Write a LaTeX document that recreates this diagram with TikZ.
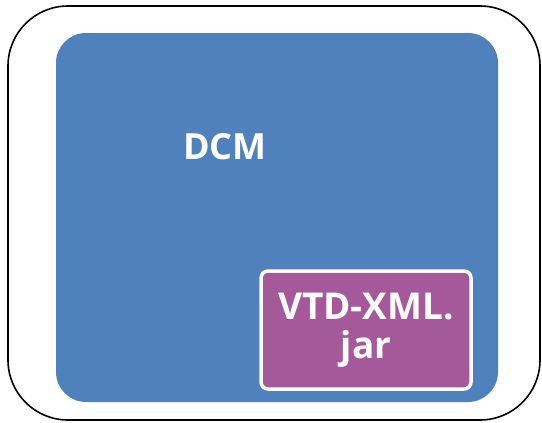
\documentclass[tikz,border=0pt]{standalone}
\usepackage{fontspec}
\setmainfont{Open Sans}
\usetikzlibrary{positioning}
\definecolor{dcmblue}{RGB}{79,129,189}
\definecolor{jarpurple}{RGB}{165,89,155}
\tikzset{
    frame/.style={draw=black, line width=1.6pt, rounded corners=60pt},
    box/.style={fill=dcmblue, rounded corners=30pt},
    jar/.style={fill=jarpurple, draw=white, line width=3.5pt, rounded corners=7pt},
    whitetext/.style={text=white, align=center, inner sep=0pt}
}
\begin{document}
\begin{tikzpicture}[x=1pt, y=-1pt]
    \useasboundingbox (0,0) rectangle (542,423);
    %cornice esterna
    \draw[frame] (8,6) rectangle (540,420);
    %DCM
    \path[box] (56,33) rectangle (498,402);
    \node[whitetext, font=\bfseries\fontsize{36}{40}\selectfont] (dcm) at (225,147) {DCM};
    %jar
    \node[jar, minimum width=210pt, minimum height=118pt] (vtd) at (366,330) {};
    \node[whitetext, font=\bfseries\fontsize{37}{39}\selectfont] (vtdtext) at (vtd) {VTD-XML.\\jar};
\end{tikzpicture}
\end{document}
